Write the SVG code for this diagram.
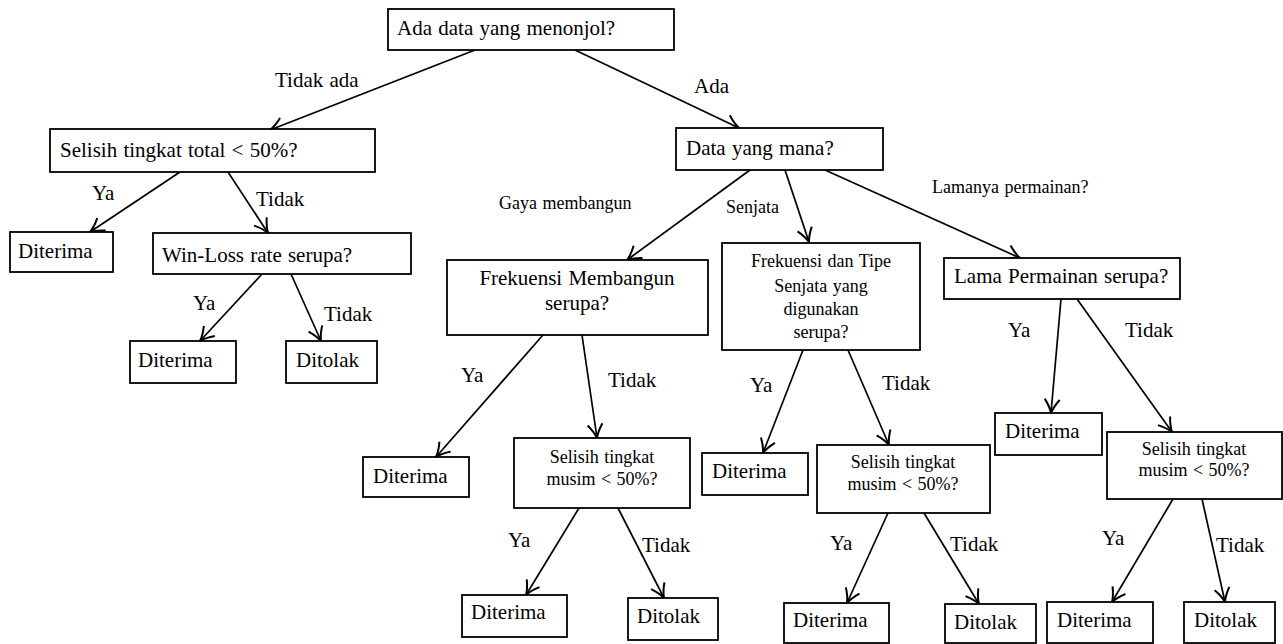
<svg xmlns="http://www.w3.org/2000/svg" width="1283" height="644" viewBox="0 0 1283 644">
<style>
  rect { fill: #fff; stroke: #000; stroke-width: 1.8; }
  text { font-family: "Liberation Serif", "Times New Roman", serif; fill: #000; }
  .m { font-size: 21px; word-spacing: 1px; }
  .s { font-size: 18px; word-spacing: 1px; }
  .c { text-anchor: middle; }
  #edges line { stroke: #000; stroke-width: 1.7; marker-end: url(#arr); }
</style>
<defs>
  <marker id="arr" markerUnits="userSpaceOnUse" markerWidth="20" markerHeight="20" viewBox="-12 -8 14 16" refX="0" refY="0" orient="auto">
    <path d="M -11 -6 Q -5 -1.5 0 0 Q -5 1.5 -11 6" fill="none" stroke="#000" stroke-width="1.6"/>
  </marker>
</defs>
<rect x="0" y="0" width="1283" height="644" style="fill:#fff;stroke:none"/>

<g id="edges">
  <line x1="475" y1="50" x2="270" y2="130"/>
  <line x1="575" y1="50" x2="739" y2="128"/>
  <line x1="180" y1="172" x2="90" y2="232"/>
  <line x1="228" y1="172" x2="268" y2="233"/>
  <line x1="262" y1="274" x2="200" y2="341"/>
  <line x1="291" y1="274" x2="321" y2="341"/>
  <line x1="750" y1="170" x2="627" y2="260"/>
  <line x1="785" y1="170" x2="809" y2="242"/>
  <line x1="825" y1="170" x2="1020" y2="258"/>
  <line x1="543" y1="335" x2="436" y2="457"/>
  <line x1="582" y1="335" x2="597" y2="438"/>
  <line x1="803" y1="350" x2="763" y2="453"/>
  <line x1="848" y1="350" x2="889" y2="445"/>
  <line x1="1061" y1="299" x2="1051" y2="413"/>
  <line x1="1077" y1="299" x2="1172" y2="432"/>
  <line x1="579" y1="508" x2="526" y2="595"/>
  <line x1="618" y1="508" x2="664" y2="598"/>
  <line x1="888" y1="513" x2="847" y2="603"/>
  <line x1="924" y1="513" x2="979" y2="604"/>
  <line x1="1173" y1="499" x2="1112" y2="602"/>
  <line x1="1202" y1="499" x2="1225" y2="602"/>
</g>

<g id="edge-labels">
  <text class="m" x="275" y="87">Tidak ada</text>
  <text class="m" x="694" y="93">Ada</text>
  <text class="m" x="92" y="200">Ya</text>
  <text class="m" x="256" y="206">Tidak</text>
  <text class="m" x="193" y="310">Ya</text>
  <text class="m" x="324" y="321">Tidak</text>
  <text class="s" x="499" y="209">Gaya membangun</text>
  <text class="s" x="726" y="213">Senjata</text>
  <text class="s" x="932" y="193">Lamanya permainan?</text>
  <text class="m" x="461" y="382">Ya</text>
  <text class="m" x="608" y="387">Tidak</text>
  <text class="m" x="750" y="392">Ya</text>
  <text class="m" x="882" y="390">Tidak</text>
  <text class="m" x="1008" y="337">Ya</text>
  <text class="m" x="1125" y="337">Tidak</text>
  <text class="m" x="508" y="547">Ya</text>
  <text class="m" x="642" y="552">Tidak</text>
  <text class="m" x="830" y="550">Ya</text>
  <text class="m" x="950" y="551">Tidak</text>
  <text class="m" x="1102" y="545">Ya</text>
  <text class="m" x="1216" y="552">Tidak</text>
</g>

<g id="n-root"><rect x="388" y="9" width="286" height="41"/><text class="m" x="397" y="35">Ada data yang menonjol?</text></g>
<g id="n-total"><rect x="50" y="129" width="325" height="43"/><text class="m" x="60" y="157">Selisih tingkat total &lt; 50%?</text></g>
<g id="n-acc1"><rect x="10" y="232" width="103" height="40"/><text class="m" x="18" y="258">Diterima</text></g>
<g id="n-winloss"><rect x="153" y="233" width="258" height="41"/><text class="m" x="162" y="262">Win-Loss rate serupa?</text></g>
<g id="n-acc2"><rect x="130" y="341" width="106" height="42"/><text class="m" x="138" y="367">Diterima</text></g>
<g id="n-rej2"><rect x="286" y="341" width="91" height="42"/><text class="m" x="296" y="367">Ditolak</text></g>
<g id="n-which"><rect x="676" y="128" width="207" height="42"/><text class="m" x="686" y="155">Data yang mana?</text></g>
<g id="n-build"><rect x="447" y="260" width="261" height="75"/><text class="m c" x="577" y="285">Frekuensi Membangun</text><text class="m c" x="577" y="310">serupa?</text></g>
<g id="n-weapon"><rect x="722" y="243" width="198" height="107"/><text class="s c" x="821" y="267">Frekuensi dan Tipe</text><text class="s c" x="821" y="292">Senjata yang</text><text class="s c" x="821" y="315">digunakan</text><text class="s c" x="821" y="338">serupa?</text></g>
<g id="n-length"><rect x="944" y="258" width="236" height="41"/><text class="m" x="954" y="283">Lama Permainan serupa?</text></g>
<g id="n-acc3"><rect x="363" y="457" width="106" height="40"/><text class="m" x="373" y="483">Diterima</text></g>
<g id="n-season1"><rect x="514" y="438" width="176" height="70"/><text class="s c" x="602" y="463">Selisih tingkat</text><text class="s c" x="602" y="485">musim &lt; 50%?</text></g>
<g id="n-acc4"><rect x="462" y="595" width="105" height="42"/><text class="m" x="471" y="619">Diterima</text></g>
<g id="n-rej4"><rect x="628" y="598" width="90" height="42"/><text class="m" x="637" y="623">Ditolak</text></g>
<g id="n-acc5"><rect x="702" y="453" width="106" height="42"/><text class="m" x="712" y="478">Diterima</text></g>
<g id="n-season2"><rect x="817" y="445" width="173" height="68"/><text class="s c" x="903" y="468">Selisih tingkat</text><text class="s c" x="903" y="490">musim &lt; 50%?</text></g>
<g id="n-acc6"><rect x="784" y="603" width="105" height="40"/><text class="m" x="793" y="627">Diterima</text></g>
<g id="n-rej6"><rect x="945" y="604" width="91" height="39"/><text class="m" x="954" y="629">Ditolak</text></g>
<g id="n-acc7"><rect x="995" y="413" width="107" height="42"/><text class="m" x="1005" y="438">Diterima</text></g>
<g id="n-season3"><rect x="1107" y="432" width="175" height="67"/><text class="s c" x="1194" y="455">Selisih tingkat</text><text class="s c" x="1194" y="476">musim &lt; 50%?</text></g>
<g id="n-acc8"><rect x="1047" y="602" width="106" height="41"/><text class="m" x="1057" y="627">Diterima</text></g>
<g id="n-rej8"><rect x="1184" y="602" width="91" height="41"/><text class="m" x="1194" y="627">Ditolak</text></g>
</svg>
